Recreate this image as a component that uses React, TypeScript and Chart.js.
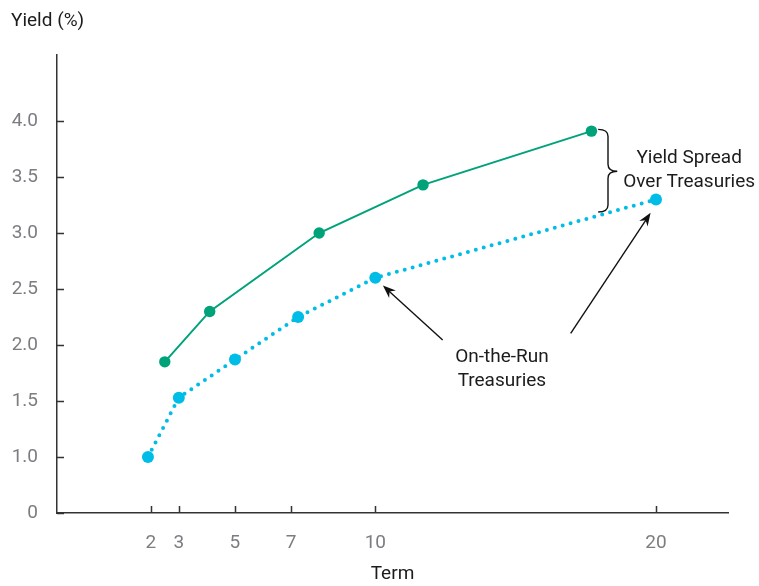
import React, { useEffect, useRef } from "react";
import { Chart, registerables } from "chart.js";

Chart.register(...registerables);

// ---- data ----
const termTicks = [2, 3, 5, 7, 10, 20];
const yieldTicks = [0.5, 1.0, 1.5, 2.0, 2.5, 3.0, 3.5, 4.0];
const yieldTickLabels = ["0", "1.0", "1.5", "2.0", "2.5", "3.0", "3.5", "4.0"];

const treasuryTerms = [1.9, 3, 5, 7.25, 10, 20];
const treasuryYields = [1.0, 1.53, 1.87, 2.25, 2.6, 3.3];

const corporateTerms = [2.5, 4.1, 8, 11.7, 17.7];
const corporateYields = [1.85, 2.3, 3.0, 3.43, 3.91];

// annotation anchors in data units
const spreadLabel = { x: 21.18, lines: ["Yield Spread", "Over Treasuries"], y: [3.624, 3.412] };
const runLabel = { x: 14.51, lines: ["On-the-Run", "Treasuries"], y: [1.845, 1.636] };
const braceSpan = { x: [17.94, 18.29, 18.62], y: [3.926, 3.552, 3.188] };
const arrowTails = [
  { x: 12.4, y: 2.045, target: 4 },
  { x: 16.96, y: 2.104, target: 5 },
];

const FONT = "Roboto, 'Noto Sans', sans-serif";
const GREEN = "#00a27a";
const BLUE = "#00bde8";
const AXIS = "#333333";
const TICK_TEXT = "#7c7c82";
const TEXT = "#1c1c1c";

function drawArrow(ctx: CanvasRenderingContext2D, x1: number, y1: number, x2: number, y2: number) {
  const ang = Math.atan2(y2 - y1, x2 - x1);
  const len = 13;
  const hw = 5;
  const bx = x2 - Math.cos(ang) * len;
  const by = y2 - Math.sin(ang) * len;
  ctx.beginPath();
  ctx.moveTo(x1, y1);
  ctx.lineTo(x2 - Math.cos(ang) * 8, y2 - Math.sin(ang) * 8);
  ctx.stroke();
  const nx = -Math.sin(ang);
  const ny = Math.cos(ang);
  const notchX = x2 - Math.cos(ang) * (len - 4);
  const notchY = y2 - Math.sin(ang) * (len - 4);
  ctx.beginPath();
  ctx.moveTo(x2, y2);
  ctx.lineTo(bx + nx * hw, by + ny * hw);
  ctx.lineTo(notchX, notchY);
  ctx.lineTo(bx - nx * hw, by - ny * hw);
  ctx.closePath();
  ctx.fill();
}

const decorPlugin = {
  id: "decor",
  afterDraw(chart: any) {
    const ctx: CanvasRenderingContext2D = chart.ctx;
    const xs = chart.scales.x;
    const ys = chart.scales.y;
    const X = (v: number) => xs.getPixelForValue(v);
    const Y = (v: number) => ys.getPixelForValue(v);
    ctx.save();
    // inward tick marks
    ctx.strokeStyle = AXIS;
    ctx.lineWidth = 1.5;
    ctx.beginPath();
    termTicks.forEach((v) => {
      const px = Math.round(X(v)) + 0.5;
      ctx.moveTo(px, xs.top);
      ctx.lineTo(px, xs.top - 7);
    });
    yieldTicks.forEach((v) => {
      const py = Math.round(Y(v)) + 0.5;
      ctx.moveTo(ys.right, py);
      ctx.lineTo(ys.right + 7, py);
    });
    ctx.stroke();

    // y axis title
    ctx.fillStyle = TEXT;
    ctx.font = `19px ${FONT}`;
    ctx.textAlign = "left";
    ctx.textBaseline = "alphabetic";
    ctx.fillText("Yield (%)", 11, 26);

    // labels
    ctx.textAlign = "center";
    spreadLabel.lines.forEach((t, i) => ctx.fillText(t, X(spreadLabel.x), Y(spreadLabel.y[i])));
    runLabel.lines.forEach((t, i) => ctx.fillText(t, X(runLabel.x), Y(runLabel.y[i])));

    // brace
    const [xl, xm, xt] = braceSpan.x.map(X);
    const [yt, ym, yb] = braceSpan.y.map(Y);
    const r = 7;
    ctx.strokeStyle = "#111";
    ctx.lineWidth = 1.4;
    ctx.beginPath();
    ctx.moveTo(xl, yt);
    ctx.quadraticCurveTo(xm, yt, xm, yt + r);
    ctx.lineTo(xm, ym - r);
    ctx.quadraticCurveTo(xm, ym, xt, ym);
    ctx.quadraticCurveTo(xm, ym, xm, ym + r);
    ctx.lineTo(xm, yb - r);
    ctx.quadraticCurveTo(xm, yb, xl, yb);
    ctx.stroke();

    // arrows
    ctx.fillStyle = "#111";
    ctx.lineWidth = 1.4;
    const offsets = [
      [7.6, 7.7],
      [-5.4, 13.4],
    ];
    arrowTails.forEach((a, i) => {
      const tx = X(treasuryTerms[a.target]) + offsets[i][0];
      const ty = Y(treasuryYields[a.target]) + offsets[i][1];
      drawArrow(ctx, X(a.x), Y(a.y), tx, ty);
    });
    ctx.restore();
  },
};

export default function App() {
  const ref = useRef<HTMLCanvasElement | null>(null);
  useEffect(() => {
    if (!ref.current) return;
    const chart = new Chart(ref.current, {
      type: "line",
      data: {
        datasets: [
          {
            label: "Corporate",
            data: corporateTerms.map((t, i) => ({ x: t, y: corporateYields[i] })),
            borderColor: GREEN,
            backgroundColor: GREEN,
            borderWidth: 2,
            pointRadius: 5.7,
            pointBorderWidth: 0,
            pointBackgroundColor: GREEN,
            tension: 0,
          },
          {
            label: "On-the-Run Treasuries",
            data: treasuryTerms.map((t, i) => ({ x: t, y: treasuryYields[i] })),
            borderColor: BLUE,
            backgroundColor: BLUE,
            borderWidth: 4,
            borderDash: [0, 8.2],
            borderCapStyle: "round",
            pointRadius: 6,
            pointBorderWidth: 0,
            pointBackgroundColor: BLUE,
            tension: 0,
          },
        ],
      },
      options: {
        animation: false,
        responsive: false,
        maintainAspectRatio: false,
        layout: { padding: { top: 55, right: 31, bottom: 0, left: 0 } },
        plugins: { legend: { display: false }, tooltip: { enabled: false }, title: { display: false } },
        scales: {
          x: {
            type: "linear",
            min: -1.34,
            max: 22.565,
            afterBuildTicks: (s: any) => {
              s.ticks = termTicks.map((v) => ({ value: v }));
            },
            afterFit: (s: any) => {
              s.height = 73;
            },
            grid: { display: false, drawTicks: false },
            border: { display: true, color: AXIS, width: 1.5 },
            ticks: {
              padding: 19,
              color: TICK_TEXT,
              font: { family: FONT, size: 19 },
              autoSkip: false,
              maxRotation: 0,
              callback: (v: any) => String(v),
            },
            title: {
              display: true,
              text: "Term",
              color: TEXT,
              font: { family: FONT, size: 19 },
              padding: { top: 0, bottom: 0 },
            },
          },
          y: {
            type: "linear",
            min: 0.5,
            max: 4.59,
            afterBuildTicks: (s: any) => {
              s.ticks = yieldTicks.map((v) => ({ value: v }));
            },
            afterFit: (s: any) => {
              s.width = 57;
            },
            grid: { display: false, drawTicks: false },
            border: { display: true, color: AXIS, width: 1.5 },
            ticks: {
              padding: 19,
              color: TICK_TEXT,
              font: { family: FONT, size: 19 },
              autoSkip: false,
              callback: (v: any) => {
                const i = yieldTicks.indexOf(Number(v));
                return i >= 0 ? yieldTickLabels[i] : "";
              },
            },
          },
        },
      },
      plugins: [decorPlugin],
    } as any);
    return () => chart.destroy();
  }, []);
  return (
    <div style={{ position: "absolute", left: 0, top: 0, width: 759, height: 586, background: "#fff" }}>
      <canvas ref={ref} width={759} height={586} style={{ display: "block", width: 759, height: 586 }} />
    </div>
  );
}
